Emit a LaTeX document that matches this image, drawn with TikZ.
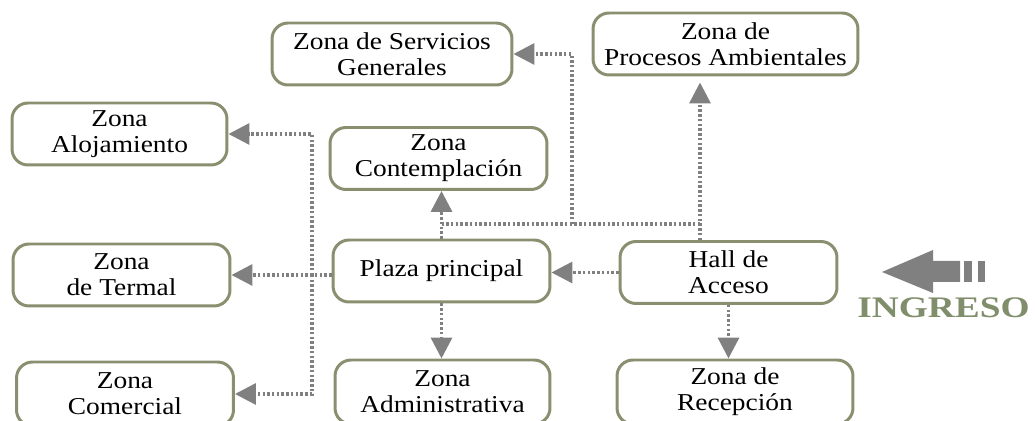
\documentclass[tikz,border=0pt]{standalone}
\usepackage{fontspec}
\setmainfont{Liberation Serif}
\newfontfamily\zonafont[FakeStretch=1.13]{Liberation Serif}
\newfontfamily\ingresofont[FakeStretch=1.25]{Liberation Serif}
\usetikzlibrary{positioning,arrows.meta,calc}
\definecolor{zonaline}{RGB}{138,143,112}
\definecolor{linkgray}{RGB}{128,128,128}
\definecolor{ingresogreen}{RGB}{128,142,108}

\begin{document}
\begin{tikzpicture}[x=0.02cm, y=-0.02cm,
  zona/.style={draw=zonaline, line width=1.7pt, rounded corners=0.32cm, fill=white,
               align=center, minimum width=4.34cm, minimum height=1.24cm, inner sep=0pt,
               font=\zonafont\fontsize{13.8}{14.7}\selectfont},
  link/.style={-{Triangle[length=0.42cm, width=0.42cm]}, linkgray, line width=1.9pt,
               dash pattern=on 1.4pt off 1.3pt},
  trunk/.style={linkgray, line width=1.9pt, dash pattern=on 1.4pt off 1.3pt},
  ingreso/.style={text=ingresogreen, inner sep=0pt,
                  font=\ingresofont\bfseries\fontsize{17}{17}\selectfont}
]
\useasboundingbox (0,0) rectangle (1035,421);
% zones
\node[zona, minimum width=4.8cm] (servicios) at (392,54) {Zona de Servicios\\Generales};
\node[zona, minimum width=5.3cm] (procesos) at (725.5,44) {Zona de\\Procesos Ambientales};
\node[zona, minimum width=4.3cm] (alojamiento) at (119.5,134) {Zona\\Alojamiento};
\node[zona] (contemplacion) at (438.5,158.5) {Zona\\Contemplación};
\node[zona] (termal) at (121.5,275) {Zona\\de Termal};
\node[zona] (plaza) at (441.5,271) {Plaza principal};
\node[zona] (hall) at (728.5,272.5) {Hall de\\Acceso};
\node[zona, minimum height=1.28cm] (comercial) at (125,394) {Zona\\Comercial};
\node[zona, minimum width=4.3cm, minimum height=1.28cm] (administrativa) at (442.5,392) {Zona\\Administrativa};
\node[zona, minimum width=4.72cm, minimum height=1.28cm] (recepcion) at (735,392) {Zona de\\Recepción};
% routing points
\coordinate (cruce) at (0,224);
\coordinate (eje) at (700,0);
\coordinate (serv) at (572,0);
\coordinate (izq) at (312,0);
% links
\draw[link] (hall.west) -- (hall.west -| plaza.east);
\draw[link] (plaza.north) -- (plaza.north |- contemplacion.south);
\draw[trunk] (plaza.north |- cruce) -- (eje |- cruce);
\draw[link, shorten >=0.12cm] (hall.north -| eje) -- (procesos.south -| eje);
\draw[link] (serv |- cruce) -- (serv |- servicios.east) -- (servicios.east);
\draw[link] (plaza.west |- termal.east) -- (termal.east);
\draw[link] (izq |- termal.east) -- (izq |- alojamiento.east) -- (alojamiento.east);
\draw[link] (izq |- termal.east) -- (izq |- comercial.east) -- (comercial.east);
\draw[link] (plaza.south) -- (plaza.south |- administrativa.north);
\draw[link] (hall.south) -- (hall.south |- recepcion.north);
% entrance
\fill[linkgray] (882,272) -- (933,250) -- (933,261) -- (960,261) -- (960,282)
  -- (933,282) -- (933,293) -- cycle;
\fill[linkgray] (964,261) rectangle (972,282);
\fill[linkgray] (978,261) rectangle (985,282);
\node[ingreso] (entrada) at (943.5,308) {INGRESO};
\end{tikzpicture}
\end{document}
